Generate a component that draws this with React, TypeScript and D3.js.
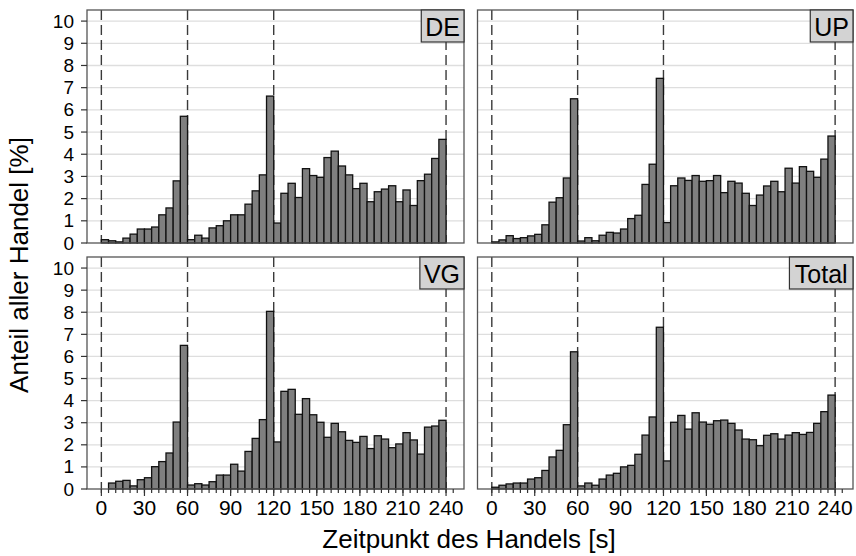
import React from "react";
import * as d3 from "d3";

// Bin starts (seconds), 5 s bins from 0 to 235
const binStarts: number[] = d3.range(0, 240, 5);

const deValues: number[] = [
  0.15, 0.1, 0.05, 0.22, 0.4, 0.63, 0.63, 0.72, 1.27, 1.58, 2.8, 5.71,
  0.15, 0.35, 0.22, 0.68, 0.78, 1.0, 1.27, 1.27, 1.75, 2.35, 3.07, 6.62,
  0.9, 2.24, 2.69, 2.05, 3.35, 3.04, 2.96, 3.85, 4.14, 3.47, 3.07, 2.45,
  2.69, 1.86, 2.31, 2.43, 2.58, 1.86, 2.39, 1.69, 2.81, 3.1, 3.81, 4.67,
];
const upValues: number[] = [
  0.05, 0.14, 0.33, 0.2, 0.24, 0.32, 0.39, 0.82, 1.84, 2.04, 2.93, 6.5,
  0.09, 0.24, 0.1, 0.35, 0.48, 0.45, 0.63, 1.1, 1.25, 2.64, 3.55, 7.42,
  0.92, 2.58, 2.93, 2.82, 3.04, 2.78, 2.81, 3.04, 2.27, 2.78, 2.7, 2.24,
  1.69, 2.16, 2.57, 2.78, 2.31, 3.37, 2.7, 3.44, 3.23, 2.96, 3.78, 4.82,
];
const vgValues: number[] = [
  0, 0.27, 0.35, 0.39, 0.14, 0.42, 0.51, 1.01, 1.24, 1.63, 3.03, 6.5,
  0.18, 0.24, 0.18, 0.33, 0.63, 0.63, 1.12, 0.81, 1.7, 2.29, 3.14, 8.04,
  2.13, 4.42, 4.51, 3.38, 4.09, 3.36, 3.02, 2.34, 2.97, 2.59, 2.2, 2.11,
  2.38, 1.83, 2.41, 2.26, 1.87, 2.04, 2.55, 2.22, 1.58, 2.8, 2.85, 3.11,
];
const totalValues: number[] = [
  0.08, 0.17, 0.23, 0.27, 0.27, 0.45, 0.51, 0.84, 1.45, 1.75, 2.91, 6.21,
  0.14, 0.27, 0.17, 0.45, 0.63, 0.71, 1.0, 1.07, 1.57, 2.44, 3.26, 7.32,
  1.27, 3.02, 3.33, 2.71, 3.45, 3.03, 2.93, 3.09, 3.12, 2.97, 2.67, 2.26,
  2.23, 1.96, 2.43, 2.5, 2.26, 2.44, 2.55, 2.47, 2.56, 2.97, 3.5, 4.25,
];

const panelNames: string[] = ["DE", "UP", "VG", "Total"];
const panelSeries: number[][] = [deValues, upValues, vgValues, totalValues];
const yTicks: number[] = d3.range(0, 11, 1);
const xMajorTicks: number[] = [0, 30, 60, 90, 120, 150, 180, 210, 240];
const xMinorTicks: number[] = d3.range(0, 250, 5);
const refLines: number[] = [0, 60, 120, 240];
const binWidth = 5;

const xTitle = "Zeitpunkt des Handels [s]";
const yTitle = "Anteil aller Handel [%]";

const W = 856;
const H = 556;
const FONT = "'Liberation Sans', Arial, Helvetica, sans-serif";

// approximate Arial advance widths (em) for strip-label box sizing
const charW: Record<string, number> = {
  D: 0.722, E: 0.667, U: 0.722, P: 0.667, V: 0.667, G: 0.778,
  T: 0.611, o: 0.556, t: 0.278, a: 0.556, l: 0.222,
};

const colX: [number, number][] = [
  [87, 464],
  [477.5, 853],
];
const rowY: [number, number][] = [
  [10, 243],
  [257, 489],
];

function Panel({ idx }: { idx: number }) {
  const col = idx % 2;
  const row = Math.floor(idx / 2);
  const [x0, x1] = colX[col];
  const [y0, y1] = rowY[row];
  const x = d3.scaleLinear().domain([-10, 252.5]).range([x0, x1]);
  const y = d3.scaleLinear().domain([0, 10.5]).range([y1, y0]);
  const values = panelSeries[idx];
  const name = panelNames[idx];
  const labelFont = 25;
  const textW = name.split("").reduce((s, c) => s + (charW[c] ?? 0.6), 0) * labelFont;
  const boxW = textW + 8;
  const boxH = 32;
  return (
    <g>
      <rect x={x0} y={y0} width={x1 - x0} height={y1 - y0} fill="#fff" />
      {yTicks.slice(1).map((t) => (
        <line key={"g" + t} x1={x0} x2={x1} y1={y(t)} y2={y(t)} stroke="#dedede" strokeWidth={1.3} />
      ))}
      {refLines.map((t) => (
        <line
          key={"r" + t}
          x1={x(t)}
          x2={x(t)}
          y1={y0}
          y2={y1}
          stroke="#3a3a3a"
          strokeWidth={1.4}
          strokeDasharray="10,5"
        />
      ))}
      {values.map((v, i) =>
        v > 0 ? (
          <rect
            key={"b" + i}
            x={x(binStarts[i])}
            y={y(v)}
            width={x(binStarts[i] + binWidth) - x(binStarts[i])}
            height={y(0) - y(v)}
            fill="#7f7f7f"
            stroke="#111"
            strokeWidth={1.3}
          />
        ) : null
      )}
      <rect x={x0} y={y0} width={x1 - x0} height={y1 - y0} fill="none" stroke="#555" strokeWidth={1.3} />
      {/* strip label */}
      <rect
        x={x1 - boxW}
        y={y0}
        width={boxW}
        height={boxH}
        fill="#d3d3d3"
        stroke="#333"
        strokeWidth={1.2}
      />
      <text
        x={x1 - boxW / 2}
        y={y0 + boxH / 2 + 1}
        textAnchor="middle"
        dominantBaseline="central"
        fontSize={labelFont}
        fontFamily={FONT}
        fill="#000"
      >
        {name}
      </text>
      {col === 0 &&
        yTicks.map((t) => (
          <g key={"yt" + t}>
            <line x1={x0 - 6} x2={x0} y1={y(t)} y2={y(t)} stroke="#333" strokeWidth={1.2} />
            <text
              x={x0 - 13}
              y={y(t)}
              textAnchor="end"
              dominantBaseline="central"
              fontSize={19}
              fontFamily={FONT}
              fill="#000"
            >
              {t}
            </text>
          </g>
        ))}
      {row === 1 && (
        <g>
          {xMinorTicks.map((t) => (
            <line key={"mn" + t} x1={x(t)} x2={x(t)} y1={y1} y2={y1 + 4} stroke="#333" strokeWidth={1.2} />
          ))}
          {xMajorTicks.map((t) => (
            <g key={"mj" + t}>
              <line x1={x(t)} x2={x(t)} y1={y1} y2={y1 + 7} stroke="#333" strokeWidth={1.2} />
              <text
                x={x(t)}
                y={y1 + 18}
                textAnchor="middle"
                dominantBaseline="central"
                fontSize={21}
                fontFamily={FONT}
                fill="#000"
              >
                {t}
              </text>
            </g>
          ))}
        </g>
      )}
    </g>
  );
}

export default function App() {
  return (
    <svg
      width={W}
      height={H}
      viewBox={`0 0 ${W} ${H}`}
      style={{ position: "absolute", left: 0, top: 0, display: "block", background: "#fff" }}
    >
      <rect x={0} y={0} width={W} height={H} fill="#fff" />
      {panelNames.map((_, i) => (
        <Panel key={i} idx={i} />
      ))}
      <text
        x={469}
        y={539}
        textAnchor="middle"
        dominantBaseline="central"
        fontSize={26}
        fontFamily={FONT}
        fill="#000"
      >
        {xTitle}
      </text>
      <text
        transform={`translate(19,265) rotate(-90)`}
        textAnchor="middle"
        dominantBaseline="central"
        fontSize={26}
        fontFamily={FONT}
        fill="#000"
      >
        {yTitle}
      </text>
    </svg>
  );
}
